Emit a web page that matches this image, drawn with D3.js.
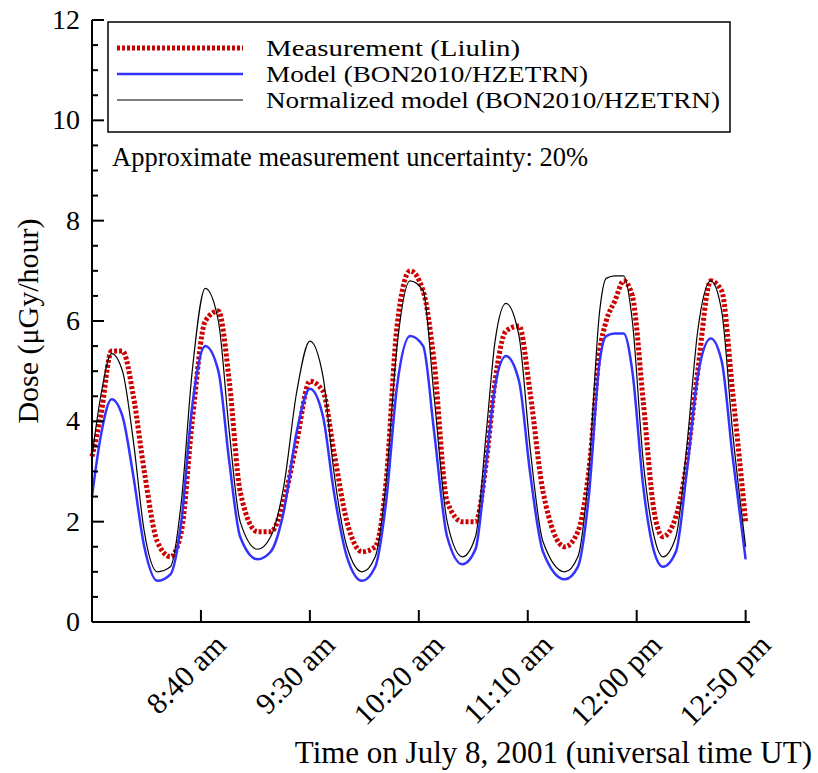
<!DOCTYPE html>
<html>
<head>
<meta charset="utf-8">
<script src="https://cdn.jsdelivr.net/npm/d3@7"></script>
<style>
  body { margin: 0; background: #fff; }
  text { font-family: "Liberation Serif", "Times New Roman", serif; fill: #000; }
</style>
</head>
<body>
<div id="chart"></div>
<script>
// minutes after 7:50 am UT
const times = [0,4,9,14,19,24,30,36,41,46,52,58,63,68,76,82,88,94,100,106,111,117,124,130,135,140,146,152,157,163,170,176,181,185,190,196,201,207,217,223,228,233,236,240,244,248,253,258,262,268,273,278,284,289,294,300];
const measured = [3.3,4.1,5.4,5.4,4.5,3.0,1.6,1.3,1.8,4.0,6.0,6.2,4.8,2.6,1.8,1.8,2.4,3.6,4.8,4.6,3.4,2.0,1.4,1.5,2.8,5.9,7.0,6.6,5.2,2.4,2.0,2.0,3.2,4.8,5.8,5.9,4.6,2.6,1.5,1.8,3.0,5.4,6.0,6.4,6.8,6.5,4.4,2.2,1.7,2.1,3.2,5.0,6.8,6.6,4.6,2.0];
const model = [2.5,3.7,4.44,4.1,2.9,1.5,0.82,0.95,2.0,4.3,5.5,5.0,3.2,1.7,1.25,1.4,2.2,3.8,4.65,4.1,2.6,1.3,0.82,1.1,2.4,4.7,5.7,5.5,3.8,1.7,1.15,1.45,3.2,4.7,5.3,4.8,3.0,1.4,0.85,1.1,2.5,5.2,5.7,5.75,5.75,5.0,2.7,1.4,1.1,1.4,3.0,4.9,5.65,5.2,3.3,1.25];
const normalized = [3.3,4.5,5.35,5.0,3.6,1.8,1.0,1.1,2.4,5.0,6.65,6.0,3.8,2.0,1.45,1.7,2.7,4.6,5.6,4.9,3.0,1.5,1.0,1.3,2.8,5.5,6.8,6.6,4.5,2.0,1.3,1.7,3.8,5.6,6.35,5.7,3.5,1.6,1.0,1.3,3.0,6.2,6.85,6.9,6.9,6.0,3.2,1.7,1.3,1.7,3.5,5.8,6.8,6.2,3.8,1.5];
const xTicks = [50,100,150,200,250,300];
const xTickLabels = ["8:40 am","9:30 am","10:20 am","11:10 am","12:00 pm","12:50 pm"];
const yTicks = [0,2,4,6,8,10,12];
const seriesNames = ["Measurement (Liulin)","Model (BON2010/HZETRN)","Normalized model (BON2010/HZETRN)"];

const W = 818, H = 773;
const margin = { top: 20, right: 68, bottom: 151, left: 92 };
const width = W - margin.left - margin.right;
const height = H - margin.top - margin.bottom;

const svg = d3.select('#chart').append('svg')
  .attr('width', W).attr('height', H);
const g = svg.append('g').attr('transform', `translate(${margin.left},${margin.top})`);

const x = d3.scaleLinear().domain([0, 302]).range([0, width]);
const y = d3.scaleLinear().domain([0, 12]).range([height, 0]);

const line = vals => d3.line()
  .x((d, i) => x(times[i]))
  .y(d => y(d))
  .curve(d3.curveMonotoneX)(vals);

g.append('path').attr('d', line(measured)).attr('fill', 'none')
  .attr('stroke', '#cc0000').attr('stroke-width', 5).attr('stroke-dasharray', '3,2');
g.append('path').attr('d', line(model)).attr('fill', 'none')
  .attr('stroke', '#3333ff').attr('stroke-width', 2.5);
g.append('path').attr('d', line(normalized)).attr('fill', 'none')
  .attr('stroke', '#000').attr('stroke-width', 1.2);

// axes
const yMinor = d3.range(0, 12.01, 0.5);
g.selectAll('.ymin').data(yMinor).enter().append('line')
  .attr('x1', 0).attr('x2', d => d % 2 === 0 ? 12 : 6)
  .attr('y1', d => y(d)).attr('y2', d => y(d))
  .attr('stroke', '#000').attr('stroke-width', 2);
g.selectAll('.ylab').data(yTicks).enter().append('text')
  .attr('x', -12).attr('y', d => y(d) + 9)
  .attr('text-anchor', 'end').attr('font-size', 28).text(d => d);

g.selectAll('.xt').data(xTicks).enter().append('line')
  .attr('x1', d => x(d)).attr('x2', d => x(d))
  .attr('y1', height).attr('y2', height - 12)
  .attr('stroke', '#000').attr('stroke-width', 2);
g.selectAll('.xlab').data(xTicks).enter().append('text')
  .attr('transform', d => `translate(${x(d) + 12},${height + 10}) rotate(-45)`)
  .attr('text-anchor', 'end').attr('dy', '0.7em').attr('font-size', 30)
  .text((d, i) => xTickLabels[i]);

g.append('line').attr('x1', 0).attr('x2', 0).attr('y1', 0).attr('y2', height)
  .attr('stroke', '#000').attr('stroke-width', 2);
g.append('line').attr('x1', 0).attr('x2', width).attr('y1', height).attr('y2', height)
  .attr('stroke', '#000').attr('stroke-width', 2);

svg.append('text').attr('transform', `translate(38,${margin.top + height / 2}) rotate(-90)`)
  .attr('text-anchor', 'middle').attr('font-size', 30).text('Dose (μGy/hour)');
svg.append('text').attr('x', 812).attr('y', 763).attr('text-anchor', 'end')
  .attr('font-size', 31).text('Time on July 8, 2001 (universal time UT)');

// legend
const lg = svg.append('g');
lg.append('rect').attr('x', 108).attr('y', 22).attr('width', 622).attr('height', 110)
  .attr('fill', '#fff').attr('stroke', '#000').attr('stroke-width', 1.5);
const styles = [
  { c: '#cc0000', w: 5, d: '3,2' },
  { c: '#3333ff', w: 2.5, d: null },
  { c: '#000', w: 1.2, d: null }
];
seriesNames.forEach((n, i) => {
  const yy = 48 + i * 26;
  lg.append('line').attr('x1', 117).attr('x2', 243).attr('y1', yy).attr('y2', yy)
    .attr('stroke', styles[i].c).attr('stroke-width', styles[i].w)
    .attr('stroke-dasharray', styles[i].d);
  lg.append('text').attr('x', 266).attr('y', yy + 8).attr('font-size', 23)
    .attr('textLength', [254, 322, 454][i]).attr('lengthAdjust', 'spacingAndGlyphs')
    .text(n);
});
svg.append('text').attr('x', 112).attr('y', 166).attr('font-size', 26.5)
  .text('Approximate measurement uncertainty: 20%');
</script>
</body>
</html>
